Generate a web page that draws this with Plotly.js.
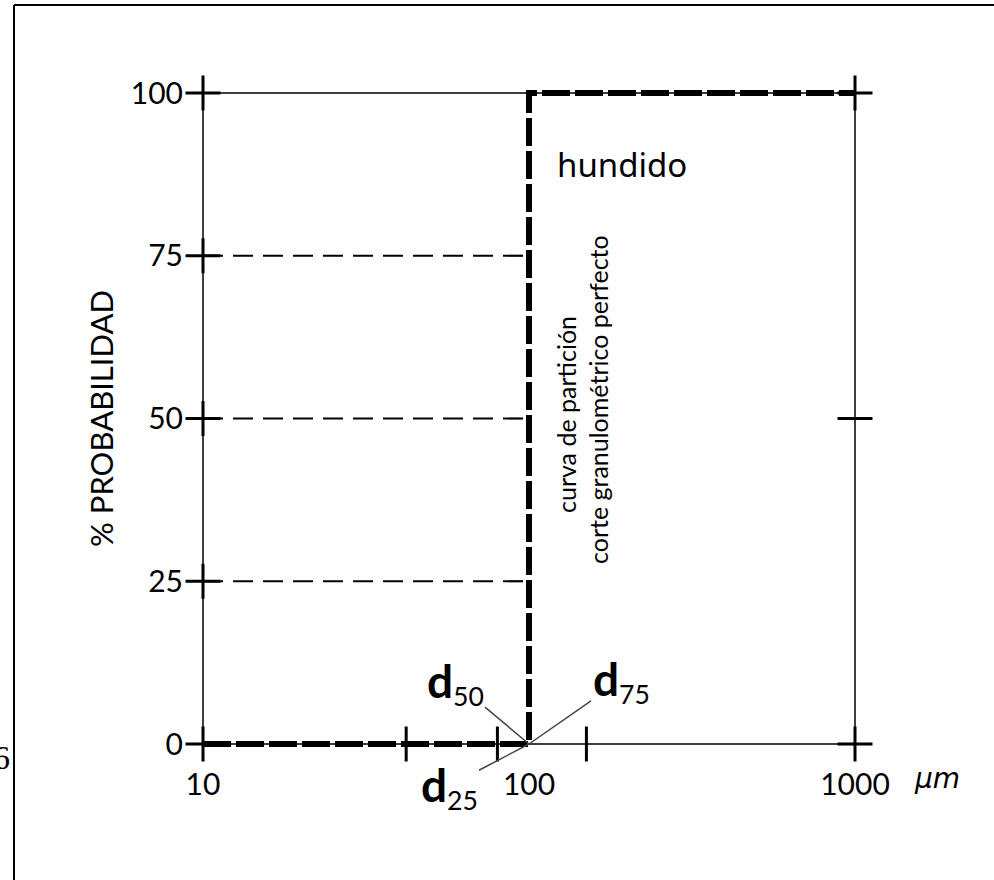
<!DOCTYPE html>
<html>
<head>
<meta charset="utf-8">
<script src="https://cdn.plot.ly/plotly-3.0.1.min.js"></script>
<style>html,body{margin:0;padding:0;background:#fff;}#chart{width:994px;height:880px;}</style>
</head>
<body>
<div id="chart"></div>
<script>
// ---- data ----
const stepX = [10, 100, 100, 1000];        // perfect cut curve (µm)
const stepY = [0, 0, 100, 100];            // % probability
const refLevels = [25, 50, 75];            // dashed reference levels
const refXStart = 10, refXEnd = 100;
const xMin = 10, xMax = 1000, yMin = 0, yMax = 100;
const yTickVals = [0, 25, 50, 75, 100];
const yTickText = ['0', '25', '50', '75', '100'];
const xTickVals = [10, 100, 1000];
const xTickText = ['10', '100', '1000'];
const leftCrossY = [0, 25, 50, 75, 100];   // "+" marks on the left axis
const rightCrossY = [0, 100];              // "+" marks on the right axis
const rightBarY = [50];                    // "-" mark on the right axis
const bottomBarX = [42, 80, 150];          // "|" marks on the bottom axis
const dSubs = ['50', '75', '25'];
const curveLabel1 = 'curva de partición';
const curveLabel2 = 'corte granulométrico perfecto';
const zoneLabel = 'hundido';
const unitLabel = 'µm';
const yTitle = '% PROBABILIDAD';

const FONT = 'Lato, "DejaVu Sans", sans-serif';
const traces = [];

refLevels.forEach(v => {
  traces.push({x: [refXStart, refXEnd], y: [v, v], mode: 'lines', type: 'scatter',
    line: {color: '#000', width: 2.2, dash: '20px,10px'}, hoverinfo: 'skip'});
});
traces.push({x: stepX, y: stepY, mode: 'lines', type: 'scatter',
  line: {color: '#000', width: 6, dash: '28px,5px'}, hoverinfo: 'skip'});
const mk = (sym) => ({symbol: sym, size: 25, color: '#000', line: {width: 3, color: '#000'}});
traces.push({x: leftCrossY.map(() => xMin), y: leftCrossY, mode: 'markers', type: 'scatter', marker: mk('cross-thin-open'), cliponaxis: false, hoverinfo: 'skip'});
traces.push({x: rightCrossY.map(() => xMax), y: rightCrossY, mode: 'markers', type: 'scatter', marker: mk('cross-thin-open'), cliponaxis: false, hoverinfo: 'skip'});
traces.push({x: rightBarY.map(() => xMax), y: rightBarY, mode: 'markers', type: 'scatter', marker: mk('line-ew-open'), cliponaxis: false, hoverinfo: 'skip'});
traces.push({x: bottomBarX, y: bottomBarX.map(() => yMin), mode: 'markers', type: 'scatter', marker: mk('line-ns-open'), cliponaxis: false, hoverinfo: 'skip'});

// plot frame (10..1000 -> 203..855 px, 0..100 -> 744..93 px) with a small pad so thick lines are not clipped
const W = 994, H = 880;
const padPx = 10;
const xPadDec = padPx / 326, yPad = padPx / 6.51;
const L = 203 - padPx, R = W - 855 - padPx, T = 93 - padPx, B = H - 744 - padPx;
const pw = W - L - R, ph = H - T - B;
const px = x => (x - L) / pw;
const py = y => (H - B - y) / ph;

const dText = s => '<span style="font-size:46px"><b>d</b></span><sub>' + s + '</sub>';
const annotations = [
  {x: 2, y: 0, xref: 'x', yref: 'y', text: dText(dSubs[0]), showarrow: true, arrowhead: 0, arrowwidth: 1.5, ax: -74, ay: -62, font: {size: 38, family: FONT, color: '#000'}},
  {x: 2, y: 0, xref: 'x', yref: 'y', text: dText(dSubs[1]), showarrow: true, arrowhead: 0, arrowwidth: 1.5, ax: 92, ay: -64, font: {size: 38, family: FONT, color: '#000'}},
  {x: 2, y: 0, xref: 'x', yref: 'y', text: dText(dSubs[2]), showarrow: true, arrowhead: 0, arrowwidth: 1.5, ax: -80, ay: 42, font: {size: 38, family: FONT, color: '#000'}},
  {x: px(566), y: py(415), xref: 'paper', yref: 'paper', text: curveLabel1, textangle: -90, showarrow: false, xanchor: 'center', yanchor: 'middle', font: {size: 25, family: FONT, color: '#000'}},
  {x: px(598), y: py(400), xref: 'paper', yref: 'paper', text: curveLabel2, textangle: -90, showarrow: false, xanchor: 'center', yanchor: 'middle', font: {size: 25, family: FONT, color: '#000'}},
  {x: px(555), y: py(164), xref: 'paper', yref: 'paper', text: zoneLabel, showarrow: false, xanchor: 'left', yanchor: 'middle', font: {size: 33, family: '"Noto Sans", sans-serif', color: '#000'}},
  {x: px(937), y: py(778), xref: 'paper', yref: 'paper', text: '<i>' + unitLabel + '</i>', showarrow: false, xanchor: 'center', yanchor: 'middle', font: {size: 28, family: '"DejaVu Sans", sans-serif', color: '#000'}},
  {x: px(1), y: py(757), xref: 'paper', yref: 'paper', text: '6', showarrow: false, xanchor: 'center', yanchor: 'middle', font: {size: 34, family: '"Liberation Serif", serif', color: '#000'}}
];

const layout = {
  width: W, height: H,
  margin: {l: L, r: R, t: T, b: B, pad: 0},
  paper_bgcolor: '#fff', plot_bgcolor: '#fff',
  showlegend: false,
  xaxis: {type: 'log', range: [Math.log10(xMin) - xPadDec, Math.log10(xMax) + xPadDec], showgrid: false, zeroline: false,
    showline: false,
    tickmode: 'array', tickvals: xTickVals, ticktext: xTickText,
    ticks: 'outside', ticklen: 4, tickcolor: 'rgba(0,0,0,0)',
    tickfont: {size: 30, family: FONT, color: '#000'}},
  yaxis: {range: [yMin - yPad, yMax + yPad], showgrid: false, zeroline: false,
    showline: false,
    tickmode: 'array', tickvals: yTickVals, ticktext: yTickText,
    ticks: 'outside', ticklen: 3, tickcolor: 'rgba(0,0,0,0)',
    tickfont: {size: 30, family: FONT, color: '#000'},
    title: {text: yTitle, standoff: 7, font: {size: 31, family: FONT, color: '#000'}}},
  shapes: [
    {type: 'rect', xref: 'x', yref: 'y', x0: xMin, x1: xMax, y0: yMin, y1: yMax, line: {color: '#000', width: 1.5}, layer: 'below'},
    {type: 'line', xref: 'paper', yref: 'paper', x0: px(14), x1: px(1000), y0: py(5), y1: py(5), line: {color: '#000', width: 2}},
    {type: 'line', xref: 'paper', yref: 'paper', x0: px(14), x1: px(14), y0: py(5), y1: py(900), line: {color: '#000', width: 2}}
  ],
  annotations: annotations
};

Plotly.newPlot('chart', traces, layout, {staticPlot: true});
</script>
</body>
</html>
